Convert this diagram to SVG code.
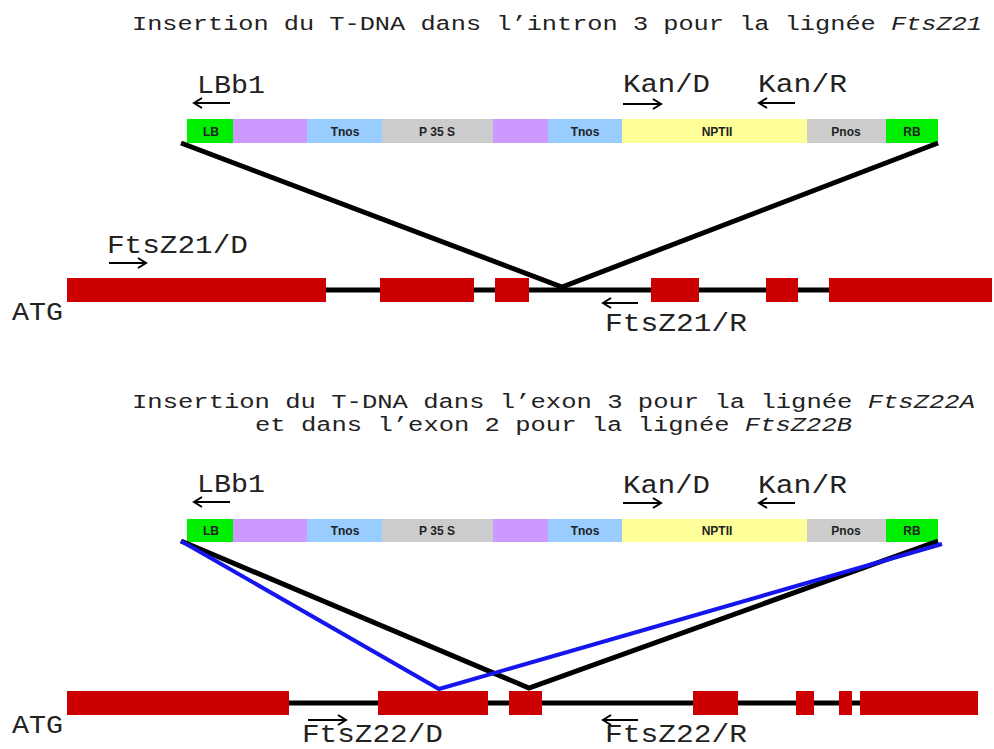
<svg xmlns="http://www.w3.org/2000/svg" width="994" height="749" viewBox="0 0 994 749">
<style>
.t{font-family:"Liberation Mono","Courier New",monospace;font-size:20px;fill:#222}
.l{font-family:"Liberation Mono","Courier New",monospace;font-size:25px;fill:#222}
.i{font-style:italic}
.b{font-family:"Liberation Sans",Arial,sans-serif;font-size:12px;font-weight:bold;fill:#222;text-anchor:middle}
.ex{fill:#cc0000}
.gl{stroke:#000;stroke-width:5}
.ar{stroke:#000;stroke-width:2;fill:none}
.ins{stroke:#000;stroke-width:5;fill:none;stroke-linejoin:miter}
.insb{stroke:#1515ee;stroke-width:4;fill:none}
</style>
<defs>
<marker id="ah" markerWidth="12" markerHeight="12" refX="9" refY="6" orient="auto" markerUnits="userSpaceOnUse">
<path d="M1,1 L9,6 L1,11" fill="none" stroke="#000" stroke-width="2"/>
</marker>
</defs>
<rect width="994" height="749" fill="#fff"/>

<g id="title1"><text class="t" x="132" y="30" textLength="850" lengthAdjust="spacingAndGlyphs">Insertion du T-DNA dans l’intron 3 pour la lignée <tspan class="i">FtsZ21</tspan></text></g>
<g id="title2">
<text class="t" x="132" y="408" textLength="843" lengthAdjust="spacingAndGlyphs">Insertion du T-DNA dans l’exon 3 pour la lignée <tspan class="i">FtsZ22A</tspan></text>
<text class="t" x="255" y="431" textLength="597" lengthAdjust="spacingAndGlyphs">et dans l’exon 2 pour la lignée <tspan class="i">FtsZ22B</tspan></text>
</g>

<g id="tdna1">
<rect x="187" y="119" width="46" height="24" fill="#00ee00"/>
<rect x="233" y="119" width="74" height="24" fill="#cc99ff"/>
<rect x="307" y="119" width="75" height="24" fill="#99ccff"/>
<rect x="382" y="119" width="111" height="24" fill="#cccccc"/>
<rect x="493" y="119" width="55" height="24" fill="#cc99ff"/>
<rect x="548" y="119" width="74" height="24" fill="#99ccff"/>
<rect x="622" y="119" width="185" height="24" fill="#ffff99"/>
<rect x="807" y="119" width="79" height="24" fill="#cccccc"/>
<rect x="886" y="119" width="52" height="24" fill="#00ee00"/>
<text class="b" x="211" y="136">LB</text>
<text class="b" x="345" y="136">Tnos</text>
<text class="b" x="437" y="136">P 35 S</text>
<text class="b" x="585" y="136">Tnos</text>
<text class="b" x="717" y="136">NPTII</text>
<text class="b" x="846" y="136">Pnos</text>
<text class="b" x="912" y="136">RB</text>
</g>

<g id="tdna2">
<rect x="187" y="519" width="46" height="23" fill="#00ee00"/>
<rect x="233" y="519" width="74" height="23" fill="#cc99ff"/>
<rect x="307" y="519" width="75" height="23" fill="#99ccff"/>
<rect x="382" y="519" width="111" height="23" fill="#cccccc"/>
<rect x="493" y="519" width="55" height="23" fill="#cc99ff"/>
<rect x="548" y="519" width="74" height="23" fill="#99ccff"/>
<rect x="622" y="519" width="185" height="23" fill="#ffff99"/>
<rect x="807" y="519" width="79" height="23" fill="#cccccc"/>
<rect x="886" y="519" width="52" height="23" fill="#00ee00"/>
<text class="b" x="211" y="535">LB</text>
<text class="b" x="345" y="535">Tnos</text>
<text class="b" x="437" y="535">P 35 S</text>
<text class="b" x="585" y="535">Tnos</text>
<text class="b" x="717" y="535">NPTII</text>
<text class="b" x="846" y="535">Pnos</text>
<text class="b" x="912" y="535">RB</text>
</g>

<g id="gene1">
<line class="gl" x1="326" y1="290" x2="830" y2="290"/>
<rect class="ex" x="67" y="278" width="259" height="24"/>
<rect class="ex" x="380" y="278" width="94" height="24"/>
<rect class="ex" x="495" y="278" width="34" height="24"/>
<rect class="ex" x="651" y="278" width="48" height="24"/>
<rect class="ex" x="766" y="278" width="32" height="24"/>
<rect class="ex" x="829" y="278" width="163" height="24"/>
<text class="l" x="12" y="320" textLength="51" lengthAdjust="spacingAndGlyphs">ATG</text>
</g>

<g id="gene2">
<line class="gl" x1="289" y1="703" x2="861" y2="703"/>
<rect class="ex" x="67" y="691" width="222" height="24"/>
<rect class="ex" x="378" y="691" width="110" height="24"/>
<rect class="ex" x="509" y="691" width="33" height="24"/>
<rect class="ex" x="693" y="691" width="45" height="24"/>
<rect class="ex" x="796" y="691" width="18" height="24"/>
<rect class="ex" x="839" y="691" width="13" height="24"/>
<rect class="ex" x="860" y="691" width="118" height="24"/>
<text class="l" x="12" y="733" textLength="51" lengthAdjust="spacingAndGlyphs">ATG</text>
</g>

<g id="primers1">
<text class="l" x="197" y="93" textLength="68" lengthAdjust="spacingAndGlyphs">LBb1</text>
<line class="ar" x1="230" y1="103" x2="194" y2="103" marker-end="url(#ah)"/>
<text class="l" x="623" y="92" textLength="87" lengthAdjust="spacingAndGlyphs">Kan/D</text>
<line class="ar" x1="623" y1="104" x2="661" y2="104" marker-end="url(#ah)"/>
<text class="l" x="758" y="92" textLength="89" lengthAdjust="spacingAndGlyphs">Kan/R</text>
<line class="ar" x1="795" y1="103" x2="759" y2="103" marker-end="url(#ah)"/>
<text class="l" x="107" y="253" textLength="141" lengthAdjust="spacingAndGlyphs">FtsZ21/D</text>
<line class="ar" x1="109" y1="263" x2="146" y2="263" marker-end="url(#ah)"/>
<text class="l" x="605" y="331" textLength="142" lengthAdjust="spacingAndGlyphs">FtsZ21/R</text>
<line class="ar" x1="638" y1="303" x2="603" y2="303" marker-end="url(#ah)"/>
</g>

<g id="primers2">
<text class="l" x="197" y="492" textLength="68" lengthAdjust="spacingAndGlyphs">LBb1</text>
<line class="ar" x1="230" y1="502" x2="194" y2="502" marker-end="url(#ah)"/>
<text class="l" x="623" y="493" textLength="87" lengthAdjust="spacingAndGlyphs">Kan/D</text>
<line class="ar" x1="623" y1="503" x2="661" y2="503" marker-end="url(#ah)"/>
<text class="l" x="758" y="493" textLength="89" lengthAdjust="spacingAndGlyphs">Kan/R</text>
<line class="ar" x1="795" y1="503" x2="759" y2="503" marker-end="url(#ah)"/>
<text class="l" x="302" y="742" textLength="141" lengthAdjust="spacingAndGlyphs">FtsZ22/D</text>
<line class="ar" x1="308" y1="720" x2="346" y2="720" marker-end="url(#ah)"/>
<text class="l" x="605" y="742" textLength="142" lengthAdjust="spacingAndGlyphs">FtsZ22/R</text>
<line class="ar" x1="638" y1="720" x2="603" y2="720" marker-end="url(#ah)"/>
</g>

<g id="connectors">
<polyline class="ins" points="181,143 562,287 938,143"/>
<polyline class="ins" points="181,541 529,688 938,541"/>
<polyline class="insb" points="181,541 439,689 942,544"/>
</g>
</svg>
